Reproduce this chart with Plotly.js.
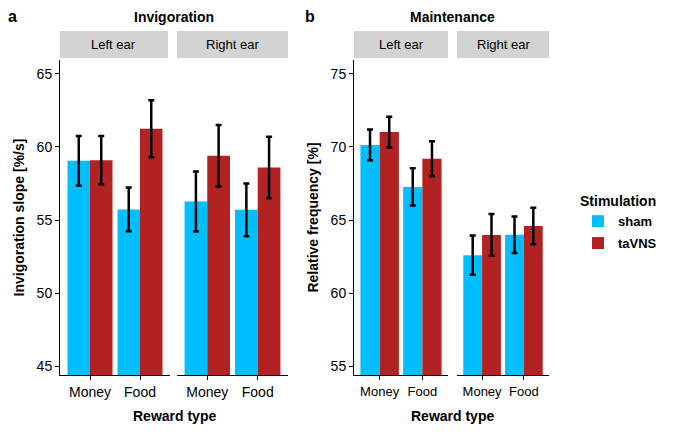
<!DOCTYPE html>
<html>
<head>
<script src="https://cdn.plot.ly/plotly-3.0.1.min.js"></script>
<style>body{margin:0}</style>
</head>
<body>
<div id="plot" style="width:680px;height:437px"></div>
<script>
const rewards = ['Money', 'Food'];

// Invigoration [left ear, right ear]
const invShamL = [59.05, 55.73], invShamLErr = [1.7, 1.5];
const invTaL = [59.1, 61.25], invTaLErr = [1.65, 1.95];
const invShamR = [56.27, 55.7], invShamRErr = [2.05, 1.8];
const invTaR = [59.4, 58.6], invTaRErr = [2.1, 2.1];

// Maintenance [left ear, right ear]
const mntShamL = [70.14, 67.27], mntShamLErr = [1.05, 1.27];
const mntTaL = [71.02, 69.2], mntTaLErr = [1.05, 1.2];
const mntShamR = [62.6, 64.0], mntShamRErr = [1.35, 1.25];
const mntTaR = [63.98, 64.6], mntTaRErr = [1.43, 1.25];

const colSham = '#00bfff', colTa = '#b22222';
const font = 'Liberation Sans, Arial, sans-serif';

function bar(y, err, name, color, xa, ya, show) {
  return {
    type: 'bar', x: rewards, y: y, name: name, xaxis: xa, yaxis: ya,
    marker: {color: color}, showlegend: show, legendgroup: name,
    error_y: {type: 'data', array: err, color: 'black', thickness: 2.5, width: 3}
  };
}

const data = [
  bar(invShamL, invShamLErr, 'sham', colSham, 'x', 'y', true),
  bar(invTaL, invTaLErr, 'taVNS', colTa, 'x', 'y', true),
  bar(invShamR, invShamRErr, 'sham', colSham, 'x2', 'y2', false),
  bar(invTaR, invTaRErr, 'taVNS', colTa, 'x2', 'y2', false),
  bar(mntShamL, mntShamLErr, 'sham', colSham, 'x3', 'y3', false),
  bar(mntTaL, mntTaLErr, 'taVNS', colTa, 'x3', 'y3', false),
  bar(mntShamR, mntShamRErr, 'sham', colSham, 'x4', 'y4', false),
  bar(mntTaR, mntTaRErr, 'taVNS', colTa, 'x4', 'y4', false)
];

const W = 680, H = 437;
const yDom = [1 - 375 / H, 1 - 60 / H];
function xax(a, b, anchor, fs) {
  return {
    domain: [a / W, b / W], anchor: anchor, range: [-0.6, 1.6],
    showline: true, linecolor: 'black', linewidth: 1, ticks: 'outside',
    ticklen: 4, tickcolor: 'black', tickfont: {size: fs, color: 'black'},
    showgrid: false, zeroline: false, fixedrange: true
  };
}
function yax(anchor, range, show, title) {
  return {
    domain: yDom, anchor: anchor, range: range, dtick: 5,
    showline: show, linecolor: 'black', linewidth: 1,
    ticks: show ? 'outside' : '', ticklen: 4, tickcolor: 'black',
    showticklabels: show, tickfont: {size: 14, color: 'black'},
    showgrid: false, zeroline: false,
    title: {text: title, font: {size: 14, color: 'black', weight: 'bold'}, standoff: 8}
  };
}

const strips = [[60, 168, 'Left ear'], [177, 288, 'Right ear'], [354, 448, 'Left ear'], [457, 549, 'Right ear']];
const shapes = strips.map(s => ({
  type: 'rect', xref: 'paper', yref: 'paper', x0: s[0] / W, x1: s[1] / W,
  y0: 1 - 58 / H, y1: 1 - 31 / H, fillcolor: '#d3d3d3', line: {width: 0}
}));
const annotations = strips.map(s => ({
  xref: 'paper', yref: 'paper', x: (s[0] + s[1]) / 2 / W, y: 1 - 44.5 / H,
  xanchor: 'center', yanchor: 'middle',
  text: s[2], showarrow: false, font: {size: 13, color: 'black'}
}));
function label(x, y, text, size) {
  annotations.push({xref: 'paper', yref: 'paper', x: x / W, y: 1 - y / H, text: '<b>' + text + '</b>',
    xanchor: 'center', yanchor: 'middle', showarrow: false, font: {size: size, color: 'black'}});
}
label(174, 17, 'Invigoration', 14);
label(452, 17, 'Maintenance', 14);
label(12, 17, 'a', 16);
label(310, 17, 'b', 16);
label(174, 416, 'Reward type', 14);
label(452, 416, 'Reward type', 14);

const layout = {
  width: W, height: H, margin: {l: 0, r: 0, t: 0, b: 0},
  font: {family: font, color: 'black'},
  paper_bgcolor: 'white', plot_bgcolor: 'white',
  barmode: 'group', bargap: 0.1, bargroupgap: 0,
  xaxis: xax(60, 170, 'y', 14), xaxis2: xax(177, 288, 'y2', 14),
  xaxis3: xax(354, 448, 'y3', 13), xaxis4: xax(457, 549, 'y4', 13),
  yaxis: yax('x', [44.4, 65.95], true, 'Invigoration slope [%/s]'),
  yaxis2: yax('x2', [44.4, 65.95], false, ''),
  yaxis3: yax('x3', [54.4, 75.95], true, 'Relative frequency [%]'),
  yaxis4: yax('x4', [54.4, 75.95], false, ''),
  shapes: shapes, annotations: annotations,
  legend: {x: 578 / W, y: 1 - 188 / H, xanchor: 'left', yanchor: 'top',
    title: {text: '<b>Stimulation</b>', font: {size: 14}}, font: {size: 13, weight: 'bold'},
    tracegroupgap: 2}
};

Plotly.newPlot('plot', data, layout, {displayModeBar: false, staticPlot: true});
</script>
</body>
</html>
